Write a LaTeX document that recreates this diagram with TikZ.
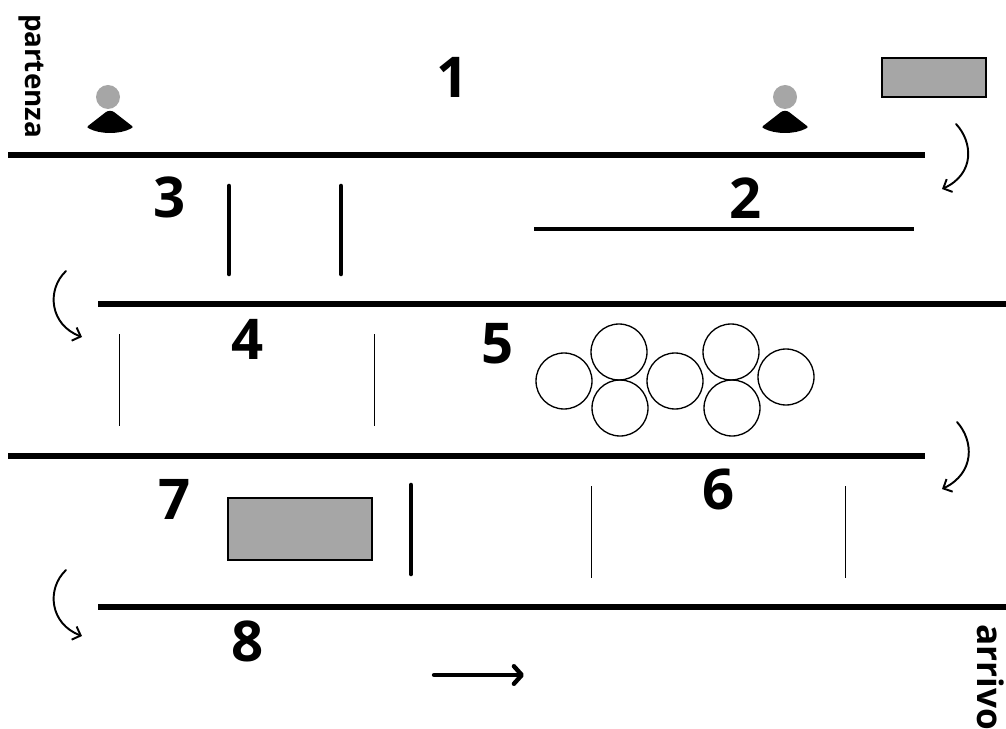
\documentclass[tikz,border=0pt]{standalone}
\usepackage{fontspec}
\setmainfont{Open Sans}
\usetikzlibrary{arrows.meta}

\definecolor{boxgray}{HTML}{A6A6A6}

\begin{document}
\begin{tikzpicture}[
    x=0.02cm, y=-0.02cm,
    font=\bfseries,
    wall/.style={line width=2.9pt},
    track/.style={line width=1.9pt},
    bar/.style={line width=2.6pt, line cap=round},
    gate/.style={line width=0.5pt},
    cone/.style={circle, draw=black, line width=0.75pt, minimum size=1.12cm, inner sep=0pt},
    obstacle/.style={draw=black, line width=1.3pt, fill=boxgray},
    turn/.style={line width=1.1pt, line cap=round, -{Straight Barb[length=4pt, width=8pt, line width=1.1pt]}},
    direction/.style={line width=2.5pt, line cap=round, -{Straight Barb[length=4.5pt, width=10pt, line width=2.5pt, round]}},
    number/.style={font=\fontsize{32}{32}\selectfont\bfseries, inner sep=0pt},
    place/.style={font=\bfseries, inner sep=0pt, rotate=-90},
]

\useasboundingbox (0,0) rectangle (1006,729);

% --- Long walls ---
\draw[wall] (8,155) -- (925,155);
\draw[wall] (98,304) -- (1006,304);
\draw[wall] (8,456) -- (925,456);
\draw[wall] (98,607) -- (1006,607);

% --- Line in section 2 ---
\draw[track] (534,229) -- (914,229);

% --- Bars and gates ---
\foreach \x/\top/\bot in {229/186/274, 341/186/274, 411/485/574}{
    \draw[bar] (\x,\top) -- (\x,\bot);
}
\foreach \x/\top/\bot in {119/334/426, 374/334/426, 591/486/578, 845/486/578}{
    \draw[gate] (\x,\top) -- (\x,\bot);
}

% --- Persons ---
\foreach \xh/\x in {108/110, 785/785}{
    \fill[boxgray] (\xh,97) circle[radius=12];
    \fill (\x-4,112) .. controls (\x-2,110.5) and (\x+2,110.5) .. (\x+4,112)
        -- (\x+22,126) .. controls (\x+23,127) and (\x+23,127.5) .. (\x+21,128.5)
        .. controls (\x+10,134.5) and (\x-10,134.5) .. (\x-21,128.5)
        .. controls (\x-23,127.5) and (\x-23,127) .. (\x-22,126) -- cycle;
}

% --- Grey boxes ---
\draw[obstacle] (882,58) rectangle (986,97);
\draw[obstacle] (228,498) rectangle (372,560);

% --- Cones in section 5 ---
\foreach \name/\x/\y in {a/564/381, b/619/352, c/620/408, d/675/381, e/731/352, f/732/408, g/786/377}{
    \node[cone] (cone\name) at (\x,\y) {};
}

% --- Turning arrows ---
\draw[turn] (956,124) .. controls (973,142) and (975,174) .. (942,189);
\draw[turn] (66,271) .. controls (46,290) and (50,325) .. (82,337);
\draw[turn] (957,422) .. controls (974,441) and (975,473) .. (942,489);
\draw[turn] (66,570) .. controls (46,589) and (50,624) .. (82,636);

% --- Driving direction ---
\draw[direction] (434,675) -- (524,675);

% --- Section numbers ---
\node[number] (n1) at (453,77)  {1};
\node[number] (n2) at (746,198) {2};
\node[number] (n3) at (170,197) {3};
\node[number] (n4) at (248,339) {4};
\node[number] (n5) at (498,344) {5};
\node[number] (n6) at (719,489) {6};
\node[number] (n7) at (175,499) {7};
\node[number] (n8) at (248,641) {8};

% --- Start and finish ---
\node[place, font=\fontsize{15.8}{15.8}\selectfont\bfseries] (start) at (31,76) {partenza};
\node[place, font=\fontsize{20}{20}\selectfont\bfseries] (finish) at (991,677) {arrivo};

\end{tikzpicture}
\end{document}
